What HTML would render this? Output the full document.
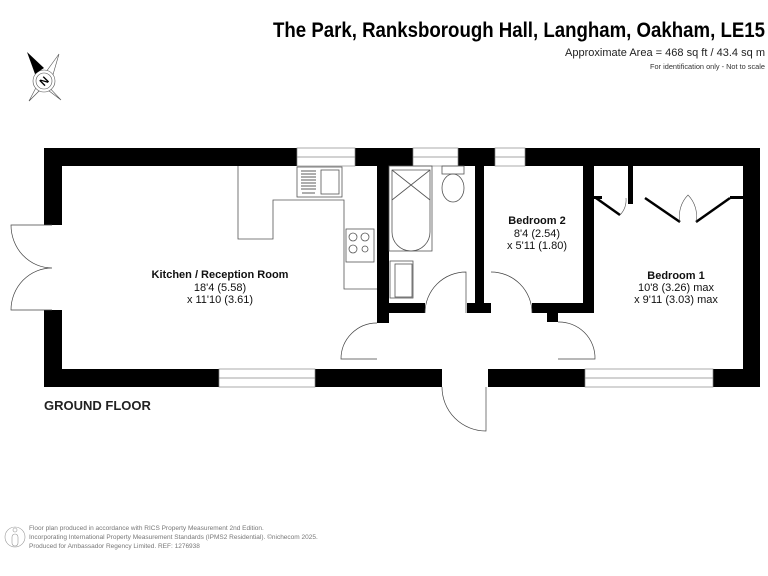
<!DOCTYPE html>
<html><head><meta charset="utf-8"><style>
html,body{margin:0;padding:0;background:#fff;}
svg{display:block;}
text{font-family:"Liberation Sans",sans-serif;}
</style></head><body>
<svg width="768" height="576" viewBox="0 0 768 576" xmlns="http://www.w3.org/2000/svg">
<rect width="768" height="576" fill="#fff"/>
<!-- header -->
<text x="765" y="37" font-size="21" font-weight="bold" text-anchor="end" textLength="492" lengthAdjust="spacingAndGlyphs">The Park, Ranksborough Hall, Langham, Oakham, LE15</text>
<text x="765" y="56" font-size="11" text-anchor="end" textLength="200" lengthAdjust="spacingAndGlyphs" fill="#222">Approximate Area = 468 sq ft / 43.4 sq m</text>
<text x="765" y="69" font-size="7.5" text-anchor="end" textLength="115" lengthAdjust="spacingAndGlyphs" fill="#333">For identification only - Not to scale</text>
<!-- compass -->
<g stroke="#555" stroke-width="0.6" fill="#fff">
<polygon points="59,54 46,72 52,78"/>
<polygon points="61,100 46,84 40,84"/>
<polygon points="29,101 40,84 46,84"/>
<polygon points="29,101 52,78 40,80"/>
<circle cx="44" cy="81" r="11"/>
<circle cx="44" cy="81" r="8"/>
</g>
<polygon points="27,52 44,68 35,74" fill="#000"/>
<text x="44" y="85" font-size="11" font-weight="bold" text-anchor="middle" transform="rotate(-45 44 81)">N</text>
<!-- walls -->
<g fill="#000">
<rect x="44" y="148" width="253" height="18"/>
<rect x="355" y="148" width="58" height="18"/>
<rect x="458" y="148" width="37" height="18"/>
<rect x="525" y="148" width="235" height="18"/>
<rect x="743" y="148" width="17" height="239"/>
<rect x="44" y="148" width="18" height="77"/>
<rect x="44" y="310" width="18" height="77"/>
<rect x="44" y="369" width="175" height="18"/>
<rect x="315" y="369" width="127" height="18"/>
<rect x="488" y="369" width="97" height="18"/>
<rect x="713" y="369" width="47" height="18"/>
<rect x="377" y="148" width="12" height="175"/>
<rect x="389" y="303" width="36" height="10"/>
<rect x="475" y="148" width="9" height="165"/>
<rect x="467" y="303" width="24" height="10"/>
<rect x="532" y="303" width="61" height="10"/>
<rect x="583" y="148" width="11" height="165"/>
<rect x="547" y="313" width="11" height="9"/>
<rect x="628" y="148" width="5" height="56"/>
<rect x="594" y="196" width="8" height="3"/>
<rect x="730" y="196" width="13" height="3"/>
</g>
<!-- windows -->
<g fill="#fff" stroke="#888" stroke-width="0.7">
<rect x="297" y="148" width="58" height="18"/>
<rect x="413" y="148" width="45" height="18"/>
<rect x="495" y="148" width="30" height="18"/>
<rect x="219" y="369" width="96" height="18"/>
<rect x="585" y="369" width="128" height="18"/>
</g>
<g stroke="#888" stroke-width="0.7">
<line x1="297" y1="157" x2="355" y2="157"/><line x1="413" y1="157" x2="458" y2="157"/><line x1="495" y1="157" x2="525" y2="157"/>
<line x1="219" y1="378" x2="315" y2="378"/><line x1="585" y1="378" x2="713" y2="378"/>
</g>
<!-- doors -->
<g fill="none" stroke="#444" stroke-width="0.7">
<path d="M52,225 L11,225 A41,43 0 0 0 52,268 A41,42 0 0 0 11,310 L52,310"/>
<path d="M377,323 A36,36 0 0 0 341,359 L377,359"/>
<path d="M425,313 A41,41 0 0 1 466,272 L466,313"/>
<path d="M491,272 A41,41 0 0 1 532,313"/>
<path d="M558,322 A36,36 0 0 1 595,359 L558,359"/>
<path d="M442,387 A44,44 0 0 0 486,431 L486,387"/>
</g>
<g stroke="#000" stroke-width="2.5">
<line x1="596" y1="198" x2="620" y2="215"/><line x1="645" y1="198" x2="680" y2="222"/><line x1="730" y1="198" x2="696" y2="222"/>
</g>
<g fill="none" stroke="#555" stroke-width="0.6">
<path d="M620,215 A22 22 0 0 0 626,198"/><path d="M680,222 A30 30 0 0 1 688,195 A30 30 0 0 1 696,222"/>
</g>
<!-- kitchen counters -->
<g fill="none" stroke="#555" stroke-width="0.8">
<path d="M238,166 L238,239 L273,239 L273,200 L344,200 L344,289 L377,289"/>
<rect x="297" y="167" width="45" height="30"/>
<rect x="321" y="170" width="18" height="24"/>
<rect x="346" y="229" width="28" height="33"/>
<circle cx="353" cy="237" r="4"/><circle cx="365" cy="237" r="4"/><circle cx="353" cy="249" r="4"/><circle cx="365" cy="249" r="3"/>
<!-- bathroom -->
<rect x="389" y="166" width="43" height="85"/>
<path d="M392,170 L430,170 L430,232 A19 19 0 0 1 392,232 Z"/>
<path d="M392,170 L430,200 M430,170 L392,200"/>
<ellipse cx="453" cy="188" rx="11" ry="14"/>
<rect x="442" y="166" width="22" height="8"/>
<rect x="390" y="261" width="23" height="37"/>
<rect x="395" y="264" width="17" height="33"/>
</g>
<g stroke="#333" stroke-width="0.8">
<line x1="301" y1="171" x2="316" y2="171"/><line x1="301" y1="174" x2="316" y2="174"/><line x1="301" y1="177" x2="316" y2="177"/><line x1="301" y1="180" x2="316" y2="180"/><line x1="301" y1="183" x2="316" y2="183"/><line x1="301" y1="186" x2="316" y2="186"/><line x1="301" y1="189" x2="316" y2="189"/><line x1="302" y1="193" x2="315" y2="193"/>
</g>
<!-- labels -->
<g text-anchor="middle" font-size="11" fill="#111">
<text x="220" y="278" font-weight="bold">Kitchen / Reception Room</text>
<text x="220" y="291">18'4 (5.58)</text>
<text x="220" y="303">x 11'10 (3.61)</text>
<text x="537" y="224" font-weight="bold">Bedroom 2</text>
<text x="537" y="237">8'4 (2.54)</text>
<text x="537" y="249">x 5'11 (1.80)</text>
<text x="676" y="279" font-weight="bold">Bedroom 1</text>
<text x="676" y="291">10'8 (3.26) max</text>
<text x="676" y="303">x 9'11 (3.03) max</text>
</g>
<text x="44" y="410" font-size="13" font-weight="bold" fill="#222">GROUND FLOOR</text>
<!-- footer -->
<g fill="none" stroke="#999" stroke-width="0.6"><circle cx="15" cy="537" r="10"/><rect x="12" y="534" width="6" height="12" rx="3"/><circle cx="15" cy="530" r="2"/></g>
<g font-size="6.5" fill="#777">
<text x="29" y="530">Floor plan produced in accordance with RICS Property Measurement 2nd Edition.</text>
<text x="29" y="539">Incorporating International Property Measurement Standards (IPMS2 Residential).   ©nichecom 2025.</text>
<text x="29" y="548">Produced for Ambassador Regency Limited.   REF:  1276938</text>
</g>
</svg>
</body></html>
